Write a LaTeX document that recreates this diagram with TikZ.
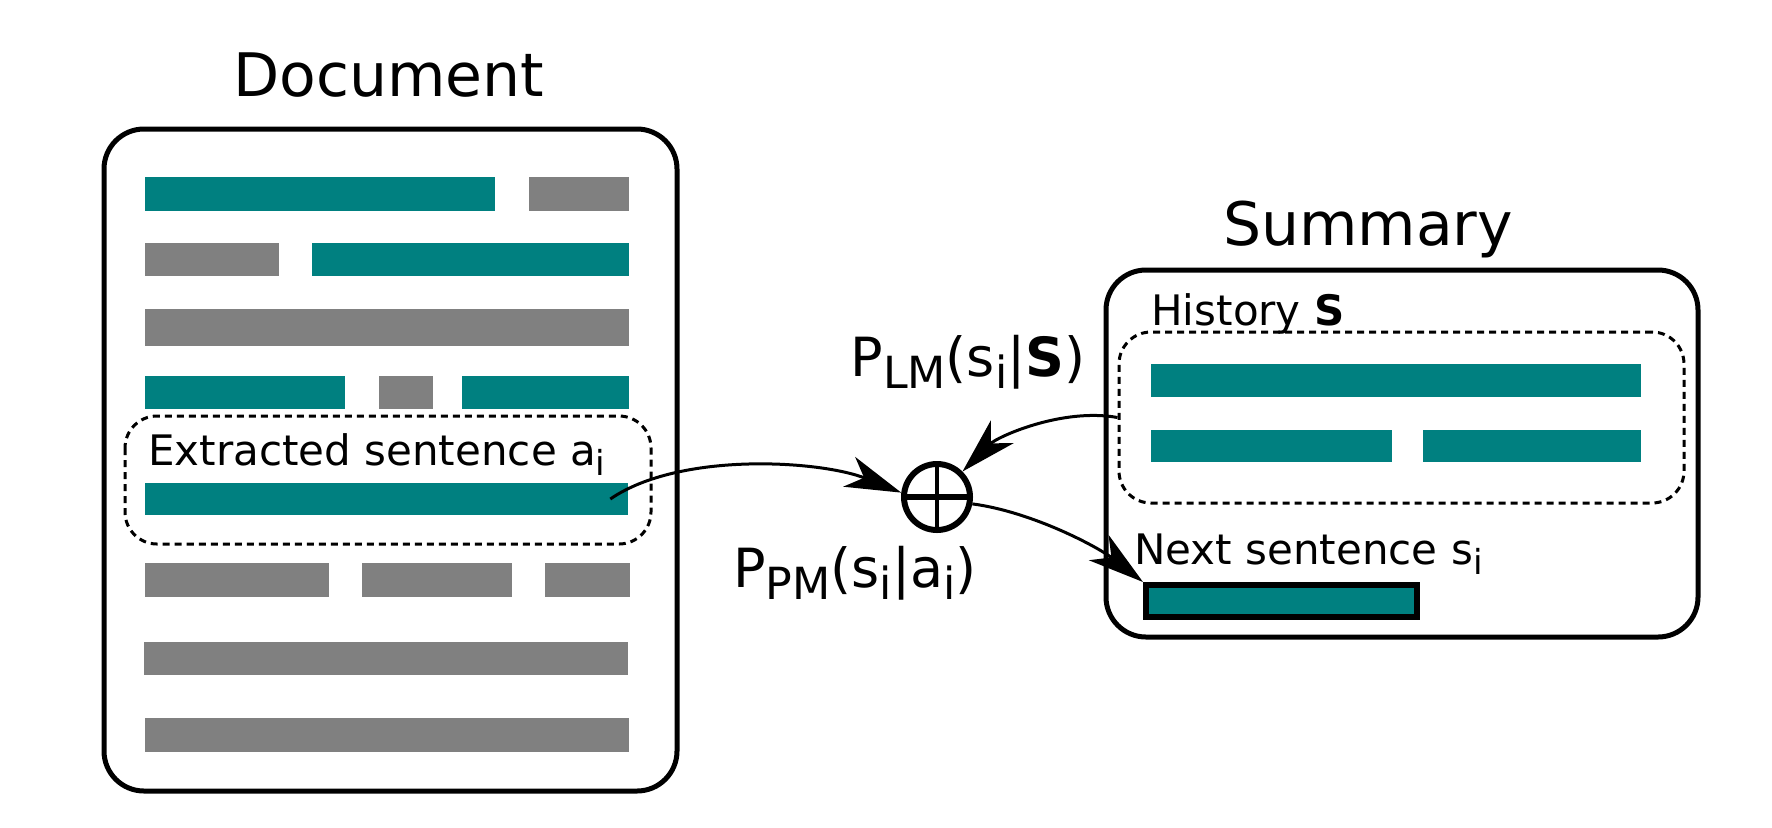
\documentclass[tikz,border=0pt]{standalone}
\usepackage{fontspec}
\setmainfont{DejaVu Sans}
\usetikzlibrary{arrows.meta}
\definecolor{sentteal}{RGB}{0,128,128}
\definecolor{sentgray}{RGB}{128,128,128}
\newcommand{\lowsub}[1]{\raisebox{-0.24em}{\scalebox{0.82}{#1}}}

\begin{document}
\begin{tikzpicture}[x=0.5pt,y=0.5pt,yscale=-1,
  tealbar/.style={fill=sentteal},
  graybar/.style={fill=sentgray},
  panel/.style={draw,line width=2.5pt,rounded corners=20pt},
  group/.style={draw,line width=1.5pt,dash pattern=on 3.5pt off 2.5pt,rounded corners=16pt},
  flow/.style={line width=1.5pt,-{Stealth[length=28pt,width=16pt,inset=8pt]}},
  small/.style={font=\fontsize{21}{25}\selectfont,inner sep=0pt},
  title/.style={font=\fontsize{30}{36}\selectfont,inner sep=0pt},
  prob/.style={font=\fontsize{27}{32}\selectfont,inner sep=0pt}]
\useasboundingbox (0,0) rectangle (1772,827);

%Shape: Document panel
\draw[panel] (104,129) rectangle (677,791);
%Shape: Rectangle rows
\fill[tealbar] (145,177) rectangle (495,211);
\fill[graybar] (529,177) rectangle (629,211);
\fill[graybar] (145,243) rectangle (279,276);
\fill[tealbar] (312,243) rectangle (629,276);
\fill[graybar] (145,309) rectangle (629,346);
\fill[tealbar] (145,376) rectangle (345,409);
\fill[graybar] (379,376) rectangle (433,409);
\fill[tealbar] (462,376) rectangle (629,409);
\fill[graybar] (145,563) rectangle (329,597);
\fill[graybar] (362,563) rectangle (512,597);
\fill[graybar] (545,563) rectangle (630,597);
\fill[graybar] (144,642) rectangle (628,675);
\fill[graybar] (145,718) rectangle (629,752);
%Shape: Extracted sentence
\draw[group] (125,416) rectangle (651,544);
\node[tealbar,minimum width=241.8pt,minimum height=16.4pt,inner sep=0pt,outer sep=0pt] (ext) at (386.5,499) {};

%Shape: Summary panel
\draw[panel] (1106,270) rectangle (1698,637);
\node[group,minimum width=282.5pt,minimum height=85.5pt,inner sep=0pt] (hist) at (1401.5,417.5) {};
\fill[tealbar] (1151,364) rectangle (1641,397);
\fill[tealbar] (1151,430) rectangle (1392,462);
\fill[tealbar] (1423,430) rectangle (1641,462);
\node[tealbar,draw,line width=3pt,minimum width=135.5pt,minimum height=16pt,inner sep=0pt] (next) at (1281.5,601) {};

%Shape: Combination
\node[draw,circle,line width=3pt,minimum size=33pt,inner sep=0pt] (oplus) at (937,497) {};
\draw[line width=2pt] (oplus.north) -- (oplus.south);
\draw[line width=3pt] (oplus.west) -- (oplus.east);

%Curve Lines
\draw[flow] ([xshift=-9pt]ext.east) .. controls +(70,-48) and +(-80,-32) .. (oplus.173);
\draw[flow] (hist.west) .. controls +(-55,-10) and +(35,-35) .. (oplus.45);
\draw[flow] (oplus.-11) .. controls +(60,8) and +(-45,-35) .. (next.north west);

% Text Node
\node[title,anchor=base] (doctitle) at (389,96) {Document};
% Text Node
\node[title,anchor=base] (sumtitle) at (1368,245) {Summary};
% Text Node
\node[small,anchor=base west] (extlabel) at (148,465) {Extracted sentence a\lowsub{i}};
% Text Node
\node[small,anchor=base west] (histlabel) at (1151,325) {History \textbf{S}};
% Text Node
\node[small,anchor=base west] (nextlabel) at (1134,564) {Next sentence s\lowsub{i}};
% Text Node
\node[prob,anchor=base] (plm) at (968,376) {P\lowsub{LM}(s\lowsub{i}|\textbf{S})};
% Text Node
\node[prob,anchor=base] (ppm) at (855,587) {P\lowsub{PM}(s\lowsub{i}|a\lowsub{i})};

\end{tikzpicture}
\end{document}
